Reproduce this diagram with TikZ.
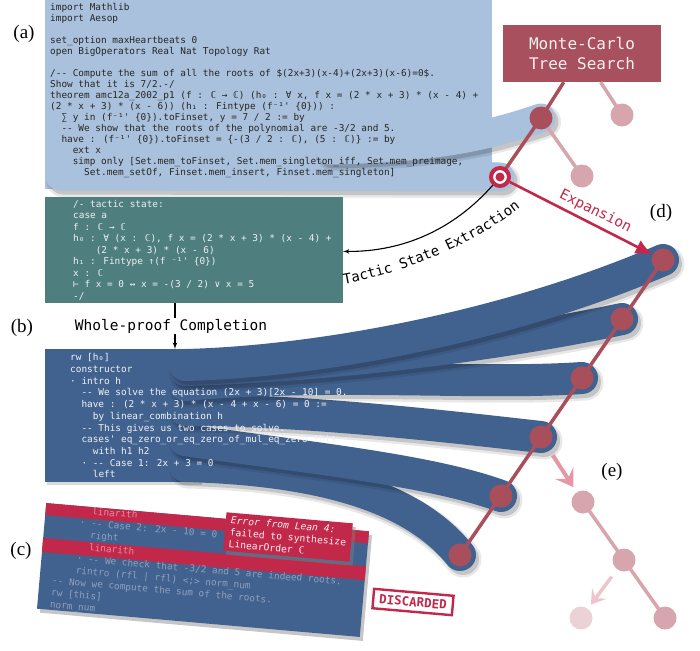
\documentclass[tikz,border=0pt]{standalone}
\usepackage{fontspec}
\usepackage{xcolor}
\usepackage{tikz}
\usetikzlibrary{shapes,arrows,arrows.meta,positioning,shadows,decorations.text}

\newfontfamily\codefont{DejaVu Sans Mono}[Ligatures=TeXOff, ItalicFont=* Oblique, BoldFont=* Bold]
\newfontfamily\labfont{Liberation Serif}

\definecolor{paleblue}{HTML}{A9C1DC}
\definecolor{proofblue}{HTML}{41628F}
\definecolor{stateteal}{HTML}{4E7E7E}
\definecolor{mctsred}{HTML}{A8505D}
\definecolor{nodered}{HTML}{A94F5B}
\definecolor{errred}{HTML}{C2284A}
\definecolor{fadered}{HTML}{D6A5AD}
\definecolor{ghostred}{HTML}{EAD2D6}
\definecolor{fadearrow}{HTML}{E597A5}
\definecolor{ghostarrow}{HTML}{EEC5CD}
\definecolor{fadetext}{HTML}{8FA0BF}
\definecolor{stripetext}{HTML}{E28EA0}

\newdimen\cw
\cw=5.66pt
\newcommand{\ind}[1]{\hspace*{#1\cw}}

\begin{document}
\begin{tikzpicture}[x=1pt,y=-1pt]
  \tikzstyle{codebox} = [rectangle, inner sep=0pt, outer sep=0pt, anchor=north west]
  \tikzstyle{codetext} = [anchor=north west, inner sep=0pt, align=left, font=\codefont\fontsize{9.4}{11}\selectfont]
  \tikzstyle{ribbon} = [draw=proofblue, line width=32pt, line cap=round,
    preaction={draw=black, opacity=0.09, line width=37pt, line cap=round, transform canvas={xshift=3pt,yshift=-4pt}},
    preaction={draw=black, opacity=0.15, line width=32pt, line cap=round, transform canvas={xshift=3pt,yshift=-4pt}}]
  \tikzstyle{paleribbon} = [draw=paleblue, line width=29pt, line cap=round,
    preaction={draw=black, opacity=0.09, line width=34pt, line cap=round, transform canvas={xshift=3pt,yshift=-4pt}},
    preaction={draw=black, opacity=0.15, line width=29pt, line cap=round, transform canvas={xshift=3pt,yshift=-4pt}}]
  \tikzstyle{treeline} = [draw=nodered, line width=3.5pt]
  \tikzstyle{fadeline} = [draw=fadered, line width=3.5pt]
  \tikzstyle{treenode} = [circle, fill=nodered, minimum size=23pt, inner sep=0pt]
  \tikzstyle{fadenode} = [treenode, fill=fadered]
  \tikzstyle{ghostnode} = [treenode, fill=ghostred]
  \tikzstyle{tgtnode} = [circle, draw=errred, line width=4pt, fill=white, minimum size=18pt, inner sep=0pt,
    path picture={\fill[errred] (path picture bounding box.center) circle (4.5pt);}]
  \tikzstyle{partlabel} = [font=\labfont\fontsize{19}{19}\selectfont]
  \tikzstyle{bigtext} = [font=\codefont\fontsize{14.5}{14.5}\selectfont]

  \useasboundingbox (0,0) rectangle (700,650);

  % points of the search tree
  \coordinate (pm) at (541,118);
  \coordinate (pt) at (500,177);
  \coordinate (pf1) at (622,115);
  \coordinate (pf2) at (582,176);
  \coordinate (p1) at (663,260);
  \coordinate (p2) at (622,319);
  \coordinate (p3) at (582,378);
  \coordinate (p4) at (541,437);
  \coordinate (p5) at (501,496);
  \coordinate (p6) at (460,555);
  \coordinate (q1) at (583,502);
  \coordinate (q2) at (624,560);
  \coordinate (q3) at (665,618);
  \coordinate (q4) at (581,618);

  % (a) theorem statement
  \node[codebox, fill=paleblue, minimum width=447, minimum height=194] (boxa) at (45,-5) {};
  \coordinate (sa1) at (330,150);
  \coordinate (sa2) at (60,176);
  \draw[paleribbon] (sa2) -- (pt);
  \draw[paleribbon] (sa1) .. controls (440,148) and (490,135) .. (pm);
  \node[codetext, text=black!85] (codea) at (50,3.5) {import Mathlib\\
import Aesop\\
\mbox{}\\
set\_option maxHeartbeats 0\\
open BigOperators Real Nat Topology Rat\\
\mbox{}\\
/-- Compute the sum of all the roots of \$(2x+3)(x-4)+(2x+3)(x-6)=0\$.\\
Show that it is 7/2.-/\\
theorem amc12a\_2002\_p1 (f : ℂ → ℂ) (h₀ : ∀ x, f x = (2 * x + 3) * (x - 4) +\\
(2 * x + 3) * (x - 6)) (h₁ : Fintype (f⁻¹' \{0\})) :\\
\ind{2}∑ y in (f⁻¹' \{0\}).toFinset, y = 7 / 2 := by\\
\ind{2}-- We show that the roots of the polynomial are -3/2 and 5.\\
\ind{2}have : (f⁻¹' \{0\}).toFinset = \{-(3 / 2 : ℂ), (5 : ℂ)\} := by\\
\ind{4}ext x\\
\ind{4}simp only [Set.mem\_toFinset, Set.mem\_singleton\_iff, Set.mem\_preimage,\\
\ind{6}Set.mem\_setOf, Finset.mem\_insert, Finset.mem\_singleton]};

  % Monte-Carlo tree search
  \node[rectangle, fill=mctsred, minimum width=158, minimum height=57, align=center, text=white!92!mctsred,
    font=\codefont\fontsize{16}{20}\selectfont] (mcts) at (582,53.5) {Monte-Carlo\\Tree Search};
  \draw[fadeline] (mcts) -- (pf1);
  \draw[fadeline] (pm) -- (pf2);
  \draw[treeline] (mcts) -- (pm) -- (pt);
  \node[fadenode] (m2) at (pf1) {};
  \node[fadenode] (m3) at (pf2) {};
  \node[treenode] (m1) at (pm) {};
  \node[tgtnode] (tgt) at (pt) {};

  % (b) tactic state
  \node[codebox, fill=stateteal, minimum width=298, minimum height=106] (tactic) at (45,197) {};
  \node[codetext, text=white!90!stateteal, font=\codefont\fontsize{9.4}{11.5}\selectfont] (statetext) at (73,200) {/- tactic state:\\
case a\\
f : ℂ → ℂ\\
h₀ : ∀ (x : ℂ), f x = (2 * x + 3) * (x - 4) +\\
\ind{4}(2 * x + 3) * (x - 6)\\
h₁ : Fintype ↑(f ⁻¹' \{0\})\\
x : ℂ\\
⊢ f x = 0 ↔ x = -(3 / 2) ∨ x = 5\\
-/};
  \draw[-latex', line width=1.1pt] (tgt) .. controls (455,228) and (405,252) .. (tactic);
  \path[decorate, decoration={text along path, text align=left,
    text={|\codefont\fontsize{14}{14}\selectfont|Tactic State Extraction}}]
    (344,284) .. controls (410,272) and (480,242) .. (530,200);

  % whole-proof completion
  \node[codebox, fill=proofblue, minimum width=155, minimum height=133,
    drop shadow={opacity=0.3, shadow xshift=2pt, shadow yshift=-3pt}] (boxb) at (45,349) {};
  \coordinate (s1) at (185,365);
  \coordinate (s2) at (185,370);
  \coordinate (s3) at (185,385);
  \coordinate (s4) at (185,410);
  \coordinate (s5) at (185,440);
  \coordinate (s6) at (185,466);
  \draw[ribbon] (s6) .. controls (340,470) and (420,505) .. (p6);
  \draw[ribbon] (s5) .. controls (310,458) and (430,470) .. (p5);
  \draw[ribbon] (s4) .. controls (310,410) and (460,428) .. (p4);
  \draw[ribbon] (s3) .. controls (330,372) and (480,385) .. (p3);
  \draw[ribbon] (s2) .. controls (330,366) and (500,345) .. (p2);
  \draw[ribbon] (s1) .. controls (310,362) and (500,330) .. (p1);
  \node[codetext, text=white!92!proofblue, font=\codefont\fontsize{9.4}{11.7}\selectfont] (codeb) at (70,353.5) {rw [h₀]\\
constructor\\
· intro h\\
\ind{2}-- We solve the equation (2x + 3)[2x - 10] = 0.\\
\ind{2}have : (2 * x + 3) * (x - 4 + x - 6) = 0 :=\\
\ind{4}by linear\_combination h\\
\ind{2}-- This gives us two cases to solve.\\
\ind{2}cases' eq\_zero\_or\_eq\_zero\_of\_mul\_eq\_zero this\\
\ind{4}with h1 h2\\
\ind{2}· -- Case 1: 2x + 3 = 0\\
\ind{4}left};

  \coordinate (wp) at (175,0);
  \draw[-latex', line width=1.2pt] (tactic.south -| wp) -- node[fill=white, inner sep=1pt, bigtext, xshift=-4pt]
    {Whole-proof Completion} (boxb.north -| wp);

  % (d) expanded path
  \draw[treeline] (p1) -- (p6);
  \foreach \i in {1,...,6}
    \node[treenode] (n\i) at (p\i) {};
  \draw[errred, line width=2.6pt, -{Latex[length=17pt,width=15pt]}] (tgt) --
    node[sloped, above=1pt, pos=0.56, text=errred, bigtext] {Expansion} (n1);

  % (e) further search
  \draw[fadeline] (q1) -- (q2) -- (q3);
  \node[fadenode] (e1) at (q1) {};
  \node[fadenode] (e2) at (q2) {};
  \node[fadenode] (e3) at (q3) {};
  \node[ghostnode] (e4) at (q4) {};
  \draw[fadearrow, line width=4pt, -{Stealth[length=17pt,width=22pt,inset=7pt]}, shorten <=10pt, shorten >=6pt] (n4) -- (e1);
  \draw[ghostarrow, line width=3.5pt, -{Stealth[length=14pt,width=18pt,inset=6pt]}, shorten <=9pt, shorten >=5pt] (e2) -- (e4);

  % (c) discarded part
  \begin{scope}[shift={(203,570)}, rotate=-5, transform shape]
    \node[rectangle, fill=proofblue, minimum width=324, minimum height=106, inner sep=0pt,
      drop shadow={opacity=0.45, shadow xshift=3pt, shadow yshift=-4pt}] (boxc) at (0,0) {};
    \fill[errred] (-162,-53) rectangle (162,-41);
    \fill[errred] (-162,-18) rectangle (162,-4);
    \node[codetext, text=fadetext, font=\codefont\fontsize{9.4}{12.1}\selectfont] (codec) at (-149.5,-53) {\ind{6}{\color{stripetext}linarith}\\
\ind{4}· -- Case 2: 2x - 10 = 0\\
\ind{6}right\\
\ind{6}{\color{stripetext}linarith}\\
\ind{4}· -- We check that -3/2 and 5 are indeed roots.\\
\ind{4}rintro (rfl | rfl) <;> norm\_num\\
-- Now we compute the sum of the roots.\\
rw [this]\\
norm\_num};
  \end{scope}
  \node[rectangle, fill=errred, rotate=-5, align=left, inner xsep=5pt, inner ysep=3.5pt, text=white!92!errred,
    font=\codefont\fontsize{9.7}{12}\selectfont,
    drop shadow={opacity=0.45, shadow xshift=3pt, shadow yshift=-4pt}] (err) at (288,537)
    {\textit{Error from Lean 4:}\\failed to synthesize\\LinearOrder ℂ};
  \node[rectangle, draw=errred, line width=2.4pt, fill=white, rotate=-5, text=errred,
    font=\codefont\bfseries\fontsize{12.5}{12.5}\selectfont, inner xsep=6pt, inner ysep=5pt] (disc) at (413,602) {DISCARDED};

  % panel tags
  \node[partlabel] (la) at (24,34) {(a)};
  \node[partlabel] (lb) at (22,328) {(b)};
  \node[partlabel] (lc) at (21,551) {(c)};
  \node[partlabel] (ld) at (661,213) {(d)};
  \node[partlabel] (le) at (612,472) {(e)};
\end{tikzpicture}
\end{document}
